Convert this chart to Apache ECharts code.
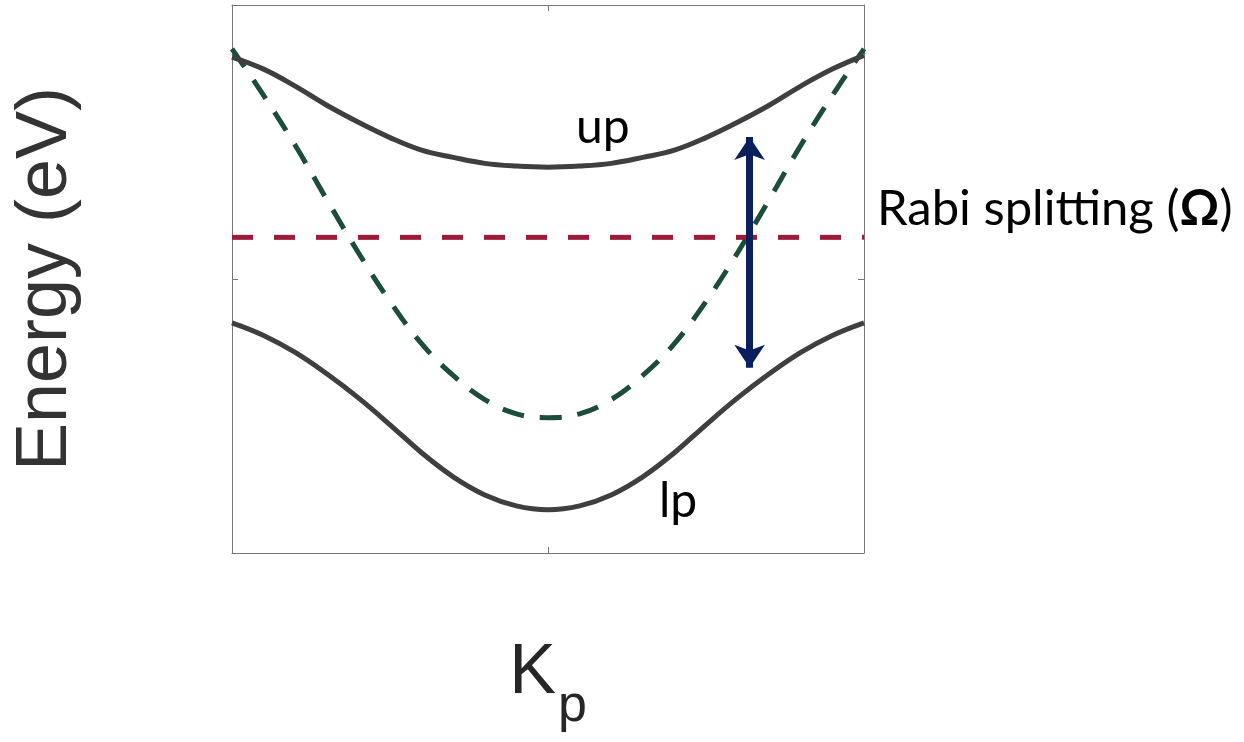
<!DOCTYPE html>
<html>
<head>
<meta charset="utf-8">
<title>Polariton dispersion</title>
<script src="https://cdn.jsdelivr.net/npm/echarts@6/dist/echarts.min.js"></script>
<style>
  html, body { margin: 0; padding: 0; background: #fff; }
  #chart { width: 1244px; height: 742px; }
</style>
</head>
<body>
<div id="chart"></div>
<script>
// in-plane wavevector (arbitrary units, centre = 0)
const kp = [-1.0, -0.9, -0.8, -0.7, -0.6, -0.5, -0.4, -0.3, -0.2, -0.1, 0,
  0.1, 0.2, 0.3, 0.4, 0.5, 0.6, 0.7, 0.8, 0.9, 1.0]

// energies (arbitrary units, 0..100)
const upperPolariton = [90.5, 88.3, 85.2, 81.7, 78.6, 75.8, 73.5, 72.2, 71.1, 70.6, 70.4,
  70.6, 71.1, 72.2, 73.5, 75.8, 78.6, 81.7, 85.2, 88.3, 90.8]
const lowerPolariton = [42.0, 39.7, 36.6, 32.7, 28.3, 23.4, 18.3, 13.9, 10.6, 8.6, 7.9,
  8.6, 10.6, 13.9, 18.3, 23.4, 28.3, 32.7, 36.6, 39.7, 42.0]
const cavityPhoton = [92.0, 83.5, 74.4, 64.5, 54.8, 45.9, 38.2, 32.4, 28.0, 25.4, 24.7,
  25.4, 28.0, 32.4, 38.2, 45.9, 54.8, 64.5, 74.4, 83.5, 92.0]
const excitonEnergy = 57.6

// Rabi splitting arrow: [kp, bottom energy, top energy]
const rabiArrow = [0.638, 33.8, 75.9]

const pair = (xs, ys) => xs.map((x, i) => [x, ys[i]])

const chart = echarts.init(document.getElementById('chart'))

const axisLine = { show: true, onZero: false, lineStyle: { color: '#777', width: 1 } }
const axisTick = { show: true, inside: true, length: 6, lineStyle: { color: '#777', width: 1 } }

const option = {
  animation: false,
  backgroundColor: '#fff',
  grid: { left: 232, right: 380, top: 5, bottom: 189, outerBoundsMode: 'none', containLabel: false },
  xAxis: [
    {
      type: 'value', min: -1, max: 1, interval: 1, position: 'bottom',
      axisLine, axisTick, axisLabel: { show: false }, splitLine: { show: false },
      name: '{k|K}{p|p}',
      nameLocation: 'middle',
      nameGap: 62,
      nameTextStyle: {
        rich: {
          k: { fontFamily: 'Liberation Sans, Arial, sans-serif', fontSize: 70, color: '#262626' },
          p: { fontFamily: 'Liberation Sans, Arial, sans-serif', fontSize: 52, color: '#262626', padding: [66, 0, 0, 2] }
        }
      }
    },
    {
      type: 'value', min: -1, max: 1, interval: 1, position: 'top',
      axisLine, axisTick, axisLabel: { show: false }, splitLine: { show: false }
    }
  ],
  yAxis: [
    {
      type: 'value', min: 0, max: 100, interval: 50, position: 'left',
      axisLine, axisTick, axisLabel: { show: false }, splitLine: { show: false },
      name: 'Energy (eV)',
      nameLocation: 'middle',
      nameRotate: 90,
      nameGap: 150,
      nameTextStyle: { fontFamily: 'Liberation Sans, Arial, sans-serif', fontSize: 72, color: '#333' }
    },
    {
      type: 'value', min: 0, max: 100, interval: 50, position: 'right',
      axisLine, axisTick, axisLabel: { show: false }, splitLine: { show: false }
    }
  ],
  series: [
    {
      name: 'photon',
      type: 'line',
      data: pair(kp, cavityPhoton),
      smooth: 0.4,
      symbol: 'none',
      lineStyle: { color: '#1c4d3a', width: 5, type: [22, 16] },
      z: 2
    },
    {
      name: 'exciton',
      type: 'line',
      data: [[kp[0], excitonEnergy], [kp[kp.length - 1], excitonEnergy]],
      symbol: 'none',
      lineStyle: { color: '#9c1b3b', width: 5, type: [21, 21] },
      z: 3
    },
    {
      name: 'up',
      type: 'line',
      data: pair(kp, upperPolariton),
      smooth: 0.4,
      symbol: 'none',
      lineStyle: { color: '#3f3f3f', width: 5 },
      z: 4
    },
    {
      name: 'lp',
      type: 'line',
      data: pair(kp, lowerPolariton),
      smooth: 0.4,
      symbol: 'none',
      lineStyle: { color: '#3f3f3f', width: 5 },
      z: 4,
      markLine: {
        silent: true,
        symbol: ['arrow', 'arrow'],
        symbolSize: [23, 23],
        label: { show: false },
        lineStyle: { color: '#0b1f5c', width: 7, type: 'solid' },
        data: [[
          { coord: [rabiArrow[0], rabiArrow[1]] },
          { coord: [rabiArrow[0], rabiArrow[2]] }
        ]],
        z: 10
      }
    }
  ],
  graphic: [
    {
      type: 'text', left: 576, top: 104,
      style: { text: 'up', font: '48px Lato, "Open Sans", sans-serif', fill: '#000' }
    },
    {
      type: 'text', left: 659, top: 478,
      style: { text: 'lp', font: '48px Lato, "Open Sans", sans-serif', fill: '#000' }
    },
    {
      type: 'text', left: 877, top: 185,
      style: {
        text: '{r|Rabi splitting (}{b|Ω}{r|)}',
        rich: {
          r: { fontFamily: 'Lato, "Open Sans", sans-serif', fontSize: 49, fill: '#000' },
          b: { fontFamily: 'Lato, "Open Sans", sans-serif', fontSize: 49, fontWeight: 'bold', fill: '#000' }
        }
      }
    }
  ]
}

chart.setOption(option)

window.addEventListener('resize', () => chart.resize())
</script>
</body>
</html>
